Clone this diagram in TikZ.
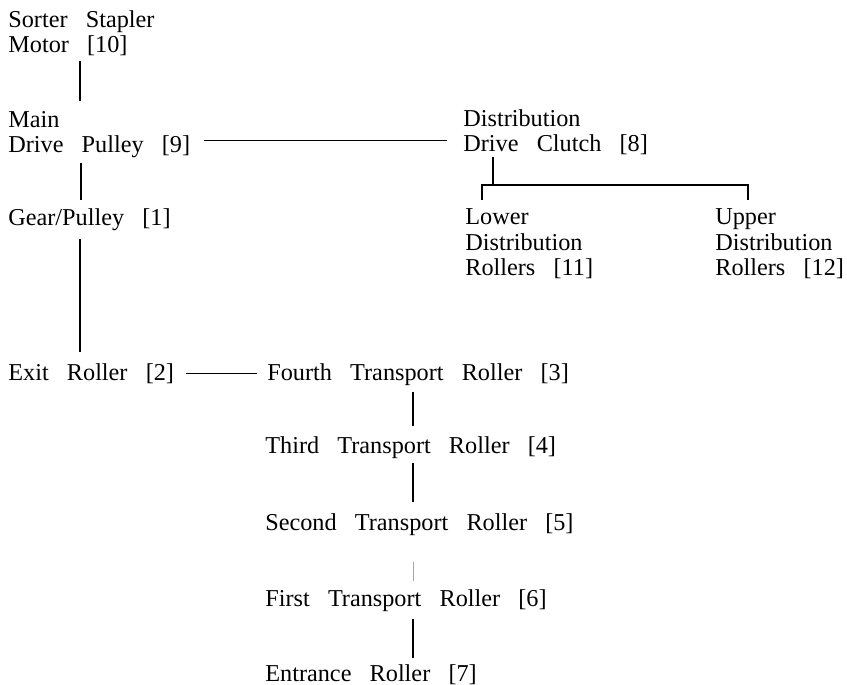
\documentclass[tikz,border=0pt]{standalone}
\usepackage{fontspec}
\setmainfont{Liberation Serif}[WordSpace=3]
\usetikzlibrary{positioning,calc}

\begin{document}
\begin{tikzpicture}[x=0.02cm,y=-0.02cm,
  every node/.style={font=\fontsize{13.8}{14.6}\selectfont,inner sep=0pt,anchor=base west,align=left},
  link/.style={line width=1.1pt},
  hlink/.style={line width=0.7pt},
  faint/.style={line width=0.3pt,gray!70}]
  \useasboundingbox (0,0) rectangle (847,685);
  % drive side (base = last line)
  \node (motor) at (8,53) {Sorter Stapler\\Motor [10]};
  \node (main) at (8,153) {Main\\Drive Pulley [9]};
  \node (gear) at (8,226) {Gear/Pulley [1]};
  \node (exit) at (8,380) {Exit Roller [2]};
  % distribution side
  \node (clutch) at (463,152) {Distribution\\Drive Clutch [8]};
  \node (lower) at (465,276) {Lower\\Distribution\\Rollers [11]};
  \node (upper) at (715,276) {Upper\\Distribution\\Rollers [12]};
  % transport rollers
  \node (fourth) at (267,380) {Fourth Transport Roller [3]};
  \node (third) at (265,453) {Third Transport Roller [4]};
  \node (second) at (265,530) {Second Transport Roller [5]};
  \node (first) at (265,606) {First Transport Roller [6]};
  \node (entrance) at (265,681) {Entrance Roller [7]};
  \coordinate (bus) at (493,185);

  \draw[link] ([shift={(72,4.5)}]motor.south west) -- ([shift={(72,-9.5)}]main.north west);
  \draw[hlink] ([shift={(13,6)}]main.east) -- ([shift={(-16,6)}]main.east -| clutch.west);
  \draw[link] ([shift={(73,4.7)}]main.south west) -- ([shift={(73,-9)}]gear.north west);
  \draw[link] ([shift={(72,7)}]gear.south west) -- ([shift={(72,-11)}]exit.north west);
  \draw[hlink] ([shift={(12,0)}]exit.east) -- ([shift={(-10,0)}]exit.east -| fourth.west);
  % clutch to both roller sets
  \draw[hlink] ([shift={(30,1)}]clutch.south west) -- (bus);
  \draw[hlink] ([shift={(17,-8.5)}]lower.north west) |- (bus) -| ([shift={(33,-8.5)}]upper.north west);
  % transport chain
  \draw[link] ([shift={(146,6.7)}]fourth.south west) -- ([shift={(148,-9.4)}]third.north west);
  \draw[link] ([shift={(148,4.7)}]third.south west) -- ([shift={(148,-10.4)}]second.north west);
  \draw[faint] ([shift={(148,26.7)}]second.south west) -- ([shift={(148,-7.4)}]first.north west);
  \draw[link] ([shift={(148,7.7)}]first.south west) -- ([shift={(148,-5.4)}]entrance.north west);
\end{tikzpicture}
\end{document}
